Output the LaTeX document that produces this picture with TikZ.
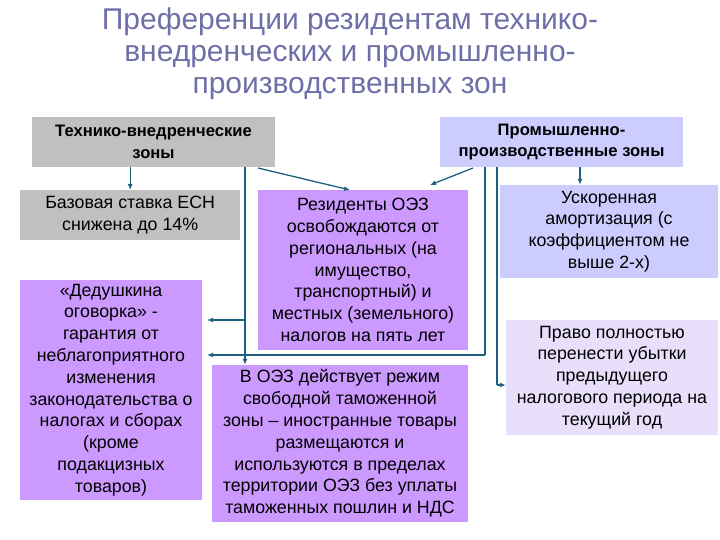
\documentclass[tikz,border=0pt]{standalone}
\usepackage{fontspec}
\setmainfont{Liberation Sans}
\definecolor{gr}{HTML}{C0C0C0}
\definecolor{vi}{HTML}{CC99FF}
\definecolor{lav}{HTML}{CCCCFF}
\definecolor{lav2}{HTML}{E8E0FA}
\definecolor{tt}{HTML}{6F6FA8}
\definecolor{ln}{HTML}{1F6080}
\begin{document}
\begin{tikzpicture}[x=1pt,y=-1pt,
 bx/.style={inner sep=0pt,align=center,font=\fontsize{17.8}{21.8}\selectfont},
 hd/.style={bx,font=\fontsize{16.6}{21.5}\selectfont\bfseries},
 ar/.style={draw=ln,line width=1.3pt,-{Latex[length=6pt,width=5pt]}},
 ln2/.style={draw=ln,line width=1.3pt}]
\usetikzlibrary{arrows.meta}
\path[use as bounding box] (0,0) rectangle (720,540);
\node[font=\fontsize{30}{32}\selectfont,text=tt,align=center] (t) at (350,54) {Преференции резидентам технико-\\внедренческих и промышленно-\\производственных зон};
\node[hd,fill=gr,minimum width=243,minimum height=50] (tvz) at (153.5,142) {Технико-внедренческие\\зоны};
\node[hd,fill=lav,minimum width=243,minimum height=50] (ppz) at (561.5,142) {Промышленно-\\производственные зоны};
\node[bx,fill=gr,minimum width=220,minimum height=50,anchor=north west] (esn) at (20,190) {Базовая ставка ЕСН\\снижена до 14\%};
\node[bx,fill=vi,minimum width=182,minimum height=220] (ded) at (111,390) {«Дедушкина\\оговорка» -\\гарантия от\\неблагоприятного\\изменения\\законодательства о\\налогах и сборах\\(кроме\\подакцизных\\товаров)};
\node[bx,fill=vi,minimum width=210,minimum height=160] (res) at (363,270) {Резиденты ОЭЗ\\освобождаются от\\региональных (на\\имущество,\\транспортный) и\\местных (земельного)\\налогов на пять лет};
\node[bx,fill=vi,minimum width=256,minimum height=157] (oez) at (340,443.5) {В ОЭЗ действует режим\\свободной таможенной\\зоны – иностранные товары\\размещаются и\\используются в пределах\\территории ОЭЗ без уплаты\\таможенных пошлин и НДС};
\node[bx,fill=lav,minimum width=218,minimum height=93] (usk) at (609,231.5) {Ускоренная\\амортизация (с\\коэффициентом не\\выше 2-х)};
\node[bx,fill=lav2,minimum width=212,minimum height=115] (pr) at (612,377.5) {Право полностью\\перенести убытки\\предыдущего\\налогового периода на\\текущий год};
\draw[ar] (tvz.south -| esn.north) -- (esn.north);
\draw[ar] (258,168) -- (350,190);
\draw[ar] (473,168) -- (430,185);
\draw[ar] (580,167) -- (usk.north -| 580,0);
\draw[ln2] (245,167) -- (245,320);
\draw[ar] (245,320) -- (207,320);
\draw[ar] (245,320) -- (oez.north -| 245,0);
\draw[ln2] (485,167) -- (485,355);
\draw[ar] (485,355) -- (207,355);
\draw[ln2] (497,167) -- (497,385);
\draw[ar] (497,385) -- (pr.west |- 0,385);
\end{tikzpicture}
\end{document}
